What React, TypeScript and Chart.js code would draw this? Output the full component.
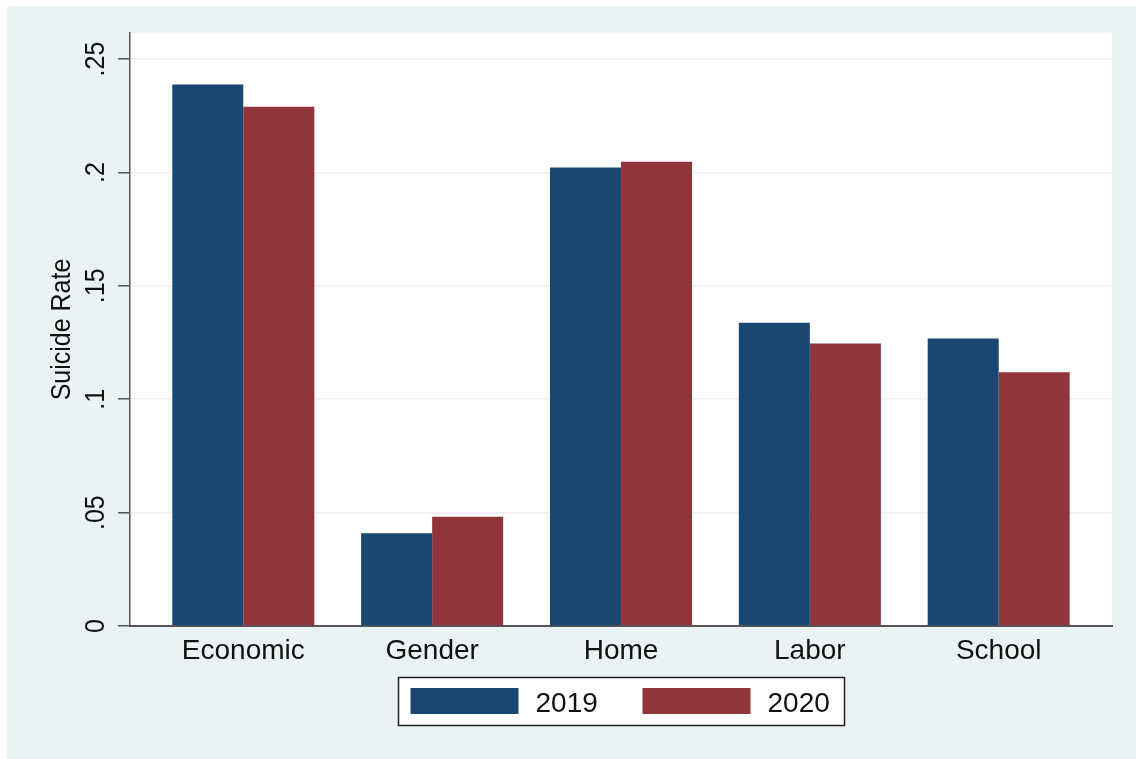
import React, { useEffect, useRef } from 'react';
import { Chart, registerables } from 'chart.js';

Chart.register(...registerables);

const categories = ['Economic', 'Gender', 'Home', 'Labor', 'School'];
const seriesLabels = ['2019', '2020'];
const values2019 = [0.2388, 0.0409, 0.2022, 0.1337, 0.1268];
const values2020 = [0.229, 0.0482, 0.2047, 0.1246, 0.1119];
const seriesColors = ['#1a476f', '#90353b'];
const yTickValues = [0, 0.05, 0.1, 0.15, 0.2, 0.25];
const yTickLabels = ['0', '.05', '.1', '.15', '.2', '.25'];
const yAxisTitle = 'Suicide Rate';

const FONT = '"Liberation Sans", Arial, Helvetica, sans-serif';
const TEXT = '#111111';

const stataPlugin = {
  id: 'stataLook',
  beforeDraw(chart: any) {
    const { ctx, width, height, chartArea } = chart;
    ctx.save();
    ctx.fillStyle = '#eaf2f3';
    ctx.fillRect(7, 6, width - 7, height - 6);
    ctx.fillStyle = '#ffffff';
    ctx.fillRect(chartArea.left, chartArea.top, chartArea.right - chartArea.left, chartArea.bottom - chartArea.top);
    ctx.restore();
  },
  afterDraw(chart: any) {
    const { ctx, chartArea } = chart;
    const yScale = chart.scales.y;
    ctx.save();
    ctx.fillStyle = TEXT;
    ctx.textAlign = 'center';
    ctx.textBaseline = 'alphabetic';
    ctx.font = `25px ${FONT}`;
    yTickValues.forEach((v, i) => {
      const py = yScale.getPixelForValue(v);
      ctx.save();
      ctx.translate(104, py);
      ctx.rotate(-Math.PI / 2);
      ctx.scale(1, 1.1);
      ctx.fillText(yTickLabels[i], 0, 0);
      ctx.restore();
    });
    ctx.save();
    ctx.translate(70, (chartArea.top + chartArea.bottom) / 2);
    ctx.rotate(-Math.PI / 2);
    ctx.scale(1, 1.1);
    ctx.fillText(yAxisTitle, 0, 0);
    ctx.restore();

    // legend
    const cx = (chartArea.left + chartArea.right) / 2;
    const boxW = 446;
    const boxL = Math.round(cx - boxW / 2) + 0.5;
    const boxT = 677.5;
    const boxH = 48;
    ctx.fillStyle = '#ffffff';
    ctx.fillRect(boxL, boxT, boxW, boxH);
    ctx.strokeStyle = '#222222';
    ctx.lineWidth = 1.5;
    ctx.strokeRect(boxL, boxT, boxW, boxH);
    ctx.font = `28px ${FONT}`;
    ctx.textAlign = 'left';
    chart.data.datasets.forEach((ds: any, i: number) => {
      const sx = boxL + 12 + i * 232;
      ctx.fillStyle = ds.backgroundColor;
      ctx.fillRect(sx, 688, 108, 26);
      ctx.fillStyle = TEXT;
      ctx.fillText(ds.label, sx + 125, 712);
    });
    ctx.restore();
  },
};

export default function App() {
  const canvasRef = useRef<HTMLCanvasElement | null>(null);

  useEffect(() => {
    document.body.style.margin = '0';
    document.body.style.overflow = 'hidden';
    const canvas = canvasRef.current;
    if (!canvas) return;
    const chart = new Chart(canvas, {
      type: 'bar',
      data: {
        datasets: [values2019, values2020].map((vals, s) => ({
          label: seriesLabels[s],
          data: vals.map((v, i) => ({ x: i, y: v })),
          backgroundColor: seriesColors[s],
          borderWidth: 0,
          categoryPercentage: 0.752,
          barPercentage: 1,
        })),
      },
      options: {
        animation: false,
        responsive: false,
        devicePixelRatio: 1,
        layout: { padding: { top: 33, right: 24, bottom: 0, left: 0 } },
        plugins: {
          legend: { display: false },
          tooltip: { enabled: false },
          title: { display: false },
        },
        scales: {
          x: {
            type: 'linear',
            min: -0.6,
            max: 4.6,
            offset: false,
            grid: { display: false, drawTicks: false },
            border: { display: true, color: '#555555', width: 2 },
            ticks: {
              autoSkip: false,
              padding: 8,
              color: TEXT,
              font: { family: FONT, size: 28 },
              callback: (v: any) => categories[v as number] ?? '',
            },
            afterBuildTicks: (s: any) => {
              s.ticks = categories.map((_, i) => ({ value: i }));
            },
            afterFit: (s: any) => {
              s.height = 133;
            },
          },
          y: {
            type: 'linear',
            min: 0,
            max: 0.2615,
            grid: {
              color: '#eaf2f3',
              lineWidth: 1.5,
              drawTicks: true,
              tickLength: 12,
              tickColor: '#555555',
              tickWidth: 1.5,
            },
            border: { display: true, color: '#555555', width: 1.5 },
            ticks: { display: false },
            afterBuildTicks: (s: any) => {
              s.ticks = yTickValues.map((v) => ({ value: v }));
            },
            afterFit: (s: any) => {
              s.width = 130;
            },
          },
        },
      } as any,
      plugins: [stataPlugin],
    });
    return () => chart.destroy();
  }, []);

  return (
    <canvas
      ref={canvasRef}
      width={1136}
      height={759}
      style={{ display: 'block', width: 1136, height: 759 }}
    />
  );
}
